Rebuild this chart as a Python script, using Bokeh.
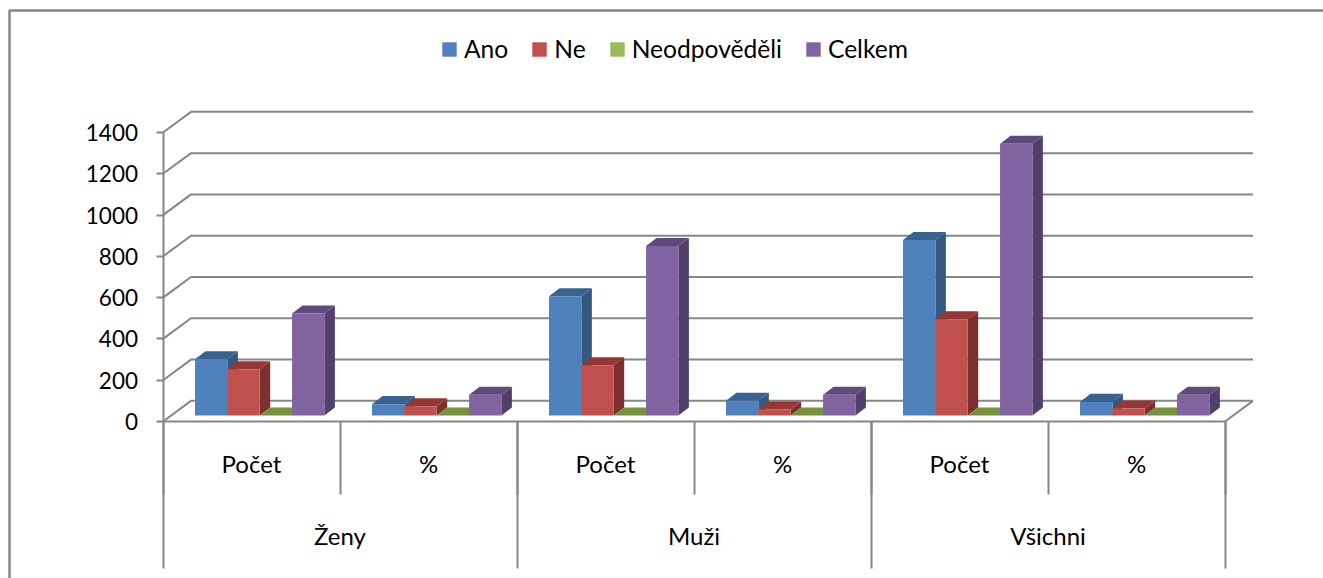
from bokeh.plotting import figure
from bokeh.models import LinearAxis, FixedTicker, Range1d, Legend, LegendItem
from bokeh.embed import file_html
from bokeh.resources import INLINE

# ---- data ----
groups = ["Ženy", "Muži", "Všichni"]
measures = ["Počet", "%", "Počet", "%", "Počet", "%"]
series_names = ["Ano", "Ne", "Neodpověděli", "Celkem"]
ano = [272, 55, 578, 71, 850, 66]
ne = [224, 45, 243, 29, 466, 34]
neodpovedeli = [0, 0, 0, 0, 0, 0]
celkem = [494, 100, 821, 100, 1316, 100]
y_ticks = [0, 200, 400, 600, 800, 1000, 1200, 1400]

# ---- style ----
front = ["#4F81BD", "#C0504D", "#9BBB59", "#8064A2"]
side = ["#34587F", "#7C2F2D", "#5F7530", "#523F6C"]
top = ["#38628F", "#953735", "#76923C", "#604A7B"]
GRID = "#868686"
FONT = "Lato"
FS_TICK = "22.5px"
FS = "24px"
FS_LEGEND = "24.6px"

W, H = 1323, 578
PX_X = 177.0          # pixels per category
PX_Y = 289.0 / 1400   # pixels per value unit
X0, Y0 = 162.5, 421.0  # canvas position of the origin

x_range = Range1d(-X0 / PX_X, (W - X0) / PX_X)
y_range = Range1d(-(H - Y0) / PX_Y, Y0 / PX_Y)

p = figure(width=W, height=H, x_range=x_range, y_range=y_range,
           x_axis_location=None, y_axis_location=None,
           toolbar_location=None, output_backend="svg",
           min_border=0, min_border_left=0, min_border_right=0,
           min_border_top=0, min_border_bottom=0, outline_line_color=None)
p.xgrid.visible = False
p.ygrid.visible = False

# wall depth in data units
wall_dx, wall_dy = 28.0 / PX_X, 100.0
n_cat = len(measures)

# outer chart border (top and left edges only reach the page edge)
left_edge = x_range.start + 9.0 / PX_X
top_edge = y_range.end - 10.0 / PX_Y
p.line([left_edge, left_edge, x_range.end], [y_range.start, top_edge, top_edge],
       line_color=GRID, line_width=2.5)

# gridlines on the back wall + side wall
for v in y_ticks:
    p.line([0, wall_dx, n_cat + wall_dx], [v, v + wall_dy, v + wall_dy],
           line_color=GRID, line_width=2)
# floor's right edge
p.line([n_cat, n_cat + wall_dx], [0, wall_dy], line_color=GRID, line_width=2)

# 3D bars
bar_w = 32.35 / PX_X
start_off = 32.0 / PX_X
base = 6.0 / PX_Y
bd_x, bd_y = 10.5 / PX_X, 39.0
series = [ano, ne, neodpovedeli, celkem]
legend_items = []
quads = [[] for _ in series]
for c in range(n_cat):
    for s, vals in enumerate(series):
        l = c + start_off + s * bar_w
        r = l + bar_w
        b = base
        t = base + vals[c]
        p.patch([r, r + bd_x, r + bd_x, r], [b, b + bd_y, t + bd_y, t],
                fill_color=side[s], line_color=None)
        p.patch([l, l + bd_x, r + bd_x, r], [t, t + bd_y, t + bd_y, t],
                fill_color=top[s], line_color=None)
        q = p.quad(left=[l], right=[r], bottom=[b], top=[t],
                   fill_color=front[s], line_color=None)
        quads[s].append(q)

for s, name in enumerate(series_names):
    legend_items.append(LegendItem(label=name, renderers=[quads[s][0]]))

legend = Legend(items=legend_items, orientation="horizontal",
                location=(440, 515), glyph_width=18, glyph_height=18,
                label_standoff=6, spacing=22, padding=0, margin=0,
                border_line_color=None, background_fill_alpha=0,
                label_text_font=FONT, label_text_font_size=FS_LEGEND, label_text_color="#000000")
p.add_layout(legend)

# value axis
yax = LinearAxis(ticker=FixedTicker(ticks=y_ticks), bounds=(0, 1400), fixed_location=0,
                 axis_line_color=GRID, axis_line_width=2,
                 major_tick_line_color=GRID, major_tick_line_width=2,
                 major_tick_in=0, major_tick_out=7, minor_tick_line_color=None,
                 major_label_standoff=18, major_label_text_font=FONT,
                 major_label_text_font_size=FS_TICK, major_label_text_color="#000000")
p.add_layout(yax, "left")


def cat_axis(ticks, labels, standoff, tick_out, line):
    ax = LinearAxis(ticker=FixedTicker(ticks=ticks), bounds=(0, n_cat), fixed_location=0,
                    axis_line_color=GRID if line else None, axis_line_width=2,
                    major_tick_line_color=GRID if tick_out else None, major_tick_line_width=2,
                    major_tick_in=0, major_tick_out=tick_out, minor_tick_line_color=None,
                    major_label_standoff=standoff, major_label_text_font=FONT,
                    major_label_text_font_size=FS, major_label_text_color="#000000",
                    major_label_overrides=dict(zip(ticks, labels)))
    p.add_layout(ax, "below")


# separators (inner level, outer level) and the two levels of labels
cat_axis(list(range(n_cat + 1)), [""] * (n_cat + 1), 0, 73, True)
cat_axis([0, 2, 4, 6], [""] * 4, 0, 147, False)
cat_axis([c + 0.5 for c in range(n_cat)], measures, 27, 0, False)
cat_axis([2 * g + 1 for g in range(len(groups))], groups, 99, 0, False)

open("out.html", "w").write(file_html(p, INLINE))
